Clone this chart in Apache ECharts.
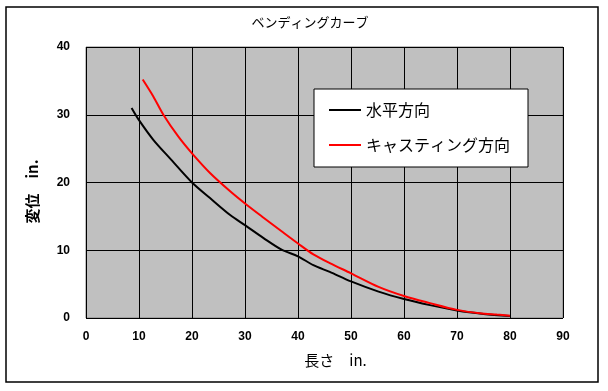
<!DOCTYPE html>
<html><head><meta charset="utf-8">
<script src="https://cdn.jsdelivr.net/npm/echarts@6/dist/echarts.min.js"></script>
<style>html,body{margin:0;padding:0;background:#fff}#c{width:608px;height:391px}</style>
</head><body><div id="c"></div>
<script>
const titleText = 'ベンディングカーブ';
const xName = '長さ　in.';
const yName = '変位　in.';
const seriesNames = ['水平方向', 'キャスティング方向'];
const horizX = [8.6, 10, 12.7, 15.8, 20, 23.4, 27.2, 30, 33.5, 36.9, 40, 42.9, 46, 50, 55.2, 60, 64.9, 70, 75, 80];
const horizY = [31.0, 29.2, 26.3, 23.6, 20.0, 17.7, 15.2, 13.7, 11.8, 10.1, 9.1, 7.8, 6.8, 5.4, 3.9, 2.8, 1.9, 1.1, 0.6, 0.3];
const castX = [10.7, 12.7, 14.6, 17.4, 20, 23.4, 27.2, 30, 33.5, 36.9, 40, 42.9, 46, 50, 55.2, 60, 64.9, 70, 74.3, 77.5, 80];
const castY = [35.2, 32.7, 30.0, 26.8, 24.3, 21.4, 18.7, 16.9, 14.8, 12.8, 11.0, 9.4, 8.1, 6.6, 4.6, 3.25, 2.2, 1.2, 0.7, 0.5, 0.35];

const zip = (a, b) => a.map((v, i) => [v, b[i]]);
const chart = echarts.init(document.getElementById('c'), null, {renderer: 'canvas'});
const jp = '"Noto Sans CJK JP", sans-serif';
chart.setOption({
  animation: false,
  backgroundColor: '#ffffff',
  title: {text: titleText, left: 305, top: 11, textAlign: 'center',
    textStyle: {fontFamily: jp, fontSize: 13, fontWeight: 'normal', color: '#000'}},
  graphic: [{type: 'rect', shape: {x: 6, y: 7, width: 592, height: 375},
    style: {fill: 'none', stroke: '#000', lineWidth: 1.5}, z: 100}],
  grid: {left: 86, top: 47, right: 45, bottom: 73, show: true,
    backgroundColor: '#c0c0c0', borderColor: '#808080', borderWidth: 1},
  legend: {orient: 'vertical', left: 314, top: 89, backgroundColor: '#fff',
    borderColor: '#000', borderWidth: 1, padding: [13, 18, 14, 15], itemGap: 19,
    itemWidth: 32, itemHeight: 2, icon: 'rect',
    textStyle: {fontFamily: jp, fontSize: 16, color: '#000'},
    data: seriesNames},
  xAxis: {type: 'value', min: 0, max: 90, interval: 10,
    name: xName, nameLocation: 'middle', nameGap: 35,
    nameTextStyle: {fontFamily: jp, fontSize: 15, color: '#000', padding: [0, 0, 0, 22]},
    axisLine: {show: false}, axisTick: {show: false},
    axisLabel: {margin: 13, fontFamily: 'Liberation Sans', fontWeight: 'bold', fontSize: 12, color: '#000'},
    splitLine: {show: true, lineStyle: {color: '#000', width: 1}}},
  yAxis: {type: 'value', min: 0, max: 40, interval: 10,
    name: yName, nameLocation: 'middle', nameGap: 46,
    nameTextStyle: {fontFamily: jp, fontSize: 15, fontWeight: 'bold', color: '#000', padding: [0, 18, 0, 0]},
    axisLine: {show: false}, axisTick: {show: false},
    axisLabel: {margin: 16, fontFamily: 'Liberation Sans', fontWeight: 'bold', fontSize: 12, color: '#000'},
    splitLine: {show: true, lineStyle: {color: '#000', width: 1}}},
  series: [
    {name: seriesNames[0], type: 'line', data: zip(horizX, horizY), smooth: 0.3,
      showSymbol: false, symbol: 'none', lineStyle: {color: '#000', width: 2}, itemStyle: {color: '#000'}},
    {name: seriesNames[1], type: 'line', data: zip(castX, castY), smooth: 0.3,
      showSymbol: false, symbol: 'none', lineStyle: {color: '#ff0000', width: 2}, itemStyle: {color: '#ff0000'}}
  ]
});
</script></body></html>
